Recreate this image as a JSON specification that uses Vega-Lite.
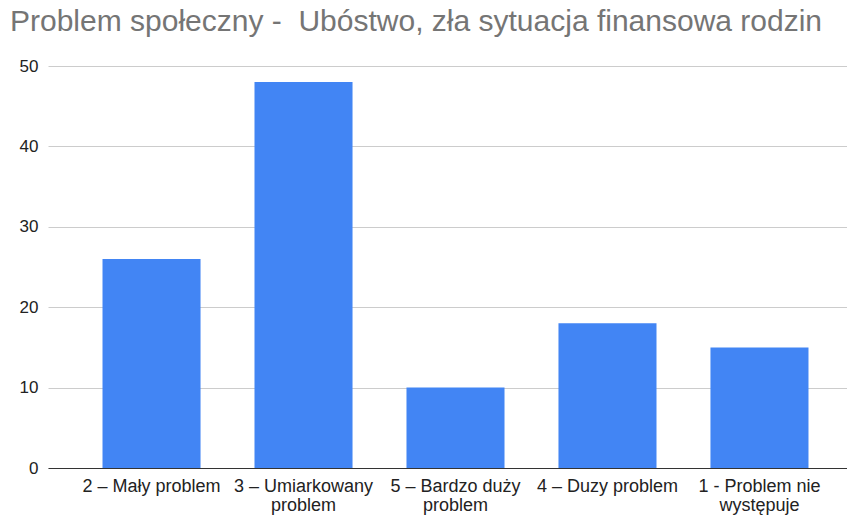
{
  "$schema": "https://vega.github.io/schema/vega-lite/v6.json",
  "autosize": "none",
  "width": 799,
  "height": 402,
  "padding": {"left": 48, "top": 66, "right": 0, "bottom": 47},
  "background": "white",
  "title": {
    "text": "Problem społeczny -\u00a0 Ubóstwo, zła sytuacja finansowa rodzin",
    "anchor": "start",
    "frame": "group",
    "font": "Liberation Sans",
    "fontSize": 30,
    "fontWeight": "normal",
    "color": "#757575",
    "baseline": "alphabetic",
    "dx": -38,
    "dy": 37,
    "offset": 33
  },
  "data": {
    "values": [
      {"kategoria": "2 – Mały problem", "liczba": 26},
      {"kategoria": "3 – Umiarkowany|problem", "liczba": 48},
      {"kategoria": "5 – Bardzo duży|problem", "liczba": 10},
      {"kategoria": "4 – Duzy problem", "liczba": 18},
      {"kategoria": "1 - Problem nie|występuje", "liczba": 15}
    ]
  },
  "mark": {"type": "bar", "color": "#4285F4"},
  "encoding": {
    "x": {
      "field": "kategoria",
      "type": "nominal",
      "sort": null,
      "scale": {"paddingInner": 0.355, "paddingOuter": 0.306, "align": 0.586},
      "axis": {
        "title": null,
        "labelAngle": 0,
        "labelExpr": "split(datum.value, '|')",
        "labelFont": "Liberation Sans",
        "labelFontSize": 18,
        "labelColor": "#222222",
        "labelLineHeight": 19,
        "labelPadding": 9,
        "ticks": false,
        "domainColor": "#333333",
        "domainWidth": 1
      }
    },
    "y": {
      "field": "liczba",
      "type": "quantitative",
      "scale": {"domain": [0, 50]},
      "axis": {
        "title": null,
        "values": [0, 10, 20, 30, 40, 50],
        "labelFont": "Liberation Sans",
        "labelFontSize": 17,
        "labelColor": "#222222",
        "labelPadding": 10,
        "ticks": false,
        "domain": false,
        "gridColor": "#cccccc",
        "gridWidth": 1
      }
    }
  },
  "config": {"view": {"stroke": null}}
}
